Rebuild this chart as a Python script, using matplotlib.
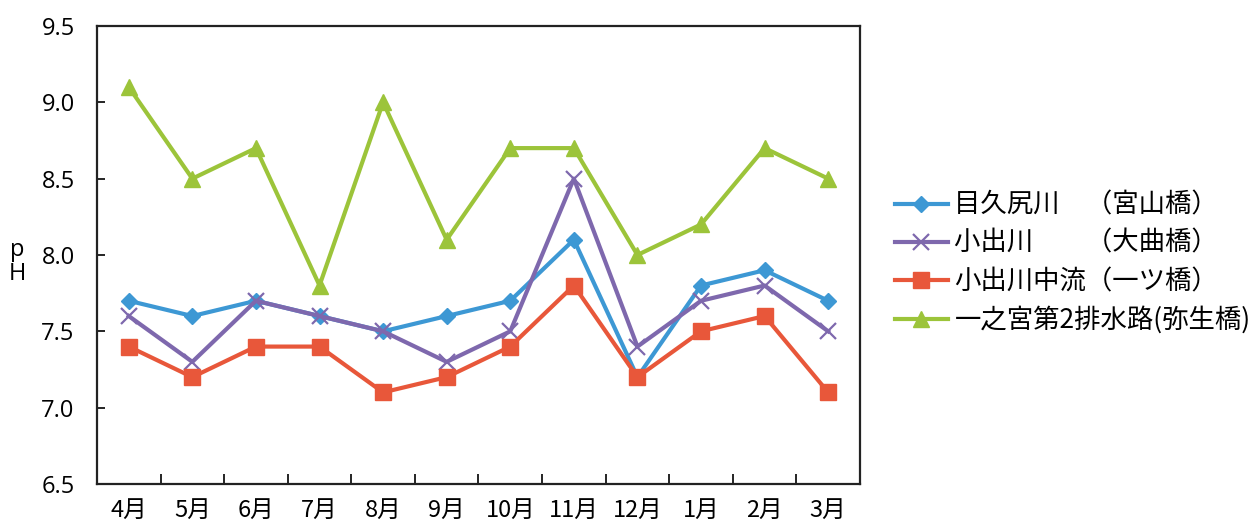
import matplotlib
matplotlib.use("Agg")
import matplotlib.pyplot as plt

plt.rcParams['font.family'] = ['Noto Sans CJK JP', 'DejaVu Sans']

months = ["4月", "5月", "6月", "7月", "8月", "9月", "10月", "11月", "12月", "1月", "2月", "3月"]

mekujiri = [7.7, 7.6, 7.7, 7.6, 7.5, 7.6, 7.7, 8.1, 7.2, 7.8, 7.9, 7.7]
koide = [7.6, 7.3, 7.7, 7.6, 7.5, 7.3, 7.5, 8.5, 7.4, 7.7, 7.8, 7.5]
koide_chuuryuu = [7.4, 7.2, 7.4, 7.4, 7.1, 7.2, 7.4, 7.8, 7.2, 7.5, 7.6, 7.1]
ichinomiya = [9.1, 8.5, 8.7, 7.8, 9.0, 8.1, 8.7, 8.7, 8.0, 8.2, 8.7, 8.5]

labels = [
    "目久尻川　（宮山橋）",
    "小出川　　（大曲橋）",
    "小出川中流（一ツ橋）",
    "一之宮第2排水路(弥生橋)",
]
y_ticks = [6.5, 7.0, 7.5, 8.0, 8.5, 9.0, 9.5]

fig = plt.figure(figsize=(12.56, 5.29), dpi=100)
ax = fig.add_axes([0.0772, 0.0851, 0.6075, 0.8658])

x = list(range(len(months)))
styles = [
    (mekujiri, "#3d98d4", "D", 8, dict()),
    (koide, "#7e68ad", "x", 11, dict(markeredgewidth=1.6)),
    (koide_chuuryuu, "#e8573a", "s", 11, dict()),
    (ichinomiya, "#9cc43a", "^", 11, dict()),
]
for (vals, color, mk, ms, extra), lab in zip(styles, labels):
    ax.plot(x, vals, color=color, lw=3, marker=mk, markersize=ms,
            markerfacecolor=color, markeredgecolor=color, label=lab, **extra)

ax.set_xlim(-0.5, len(months) - 0.5)
ax.set_ylim(6.5, 9.5)
ax.set_yticks(y_ticks)
ax.set_yticklabels([f"{v:.1f}" for v in y_ticks], fontsize=17, family=['Open Sans', 'DejaVu Sans'])
ax.tick_params(axis='y', direction='in', length=6, width=1.2, pad=16)

ax.set_xticks(x)
ax.set_xticklabels(months, fontsize=17)
ax.set_xticks([i + 0.5 for i in range(len(months) - 1)], minor=True)
ax.tick_params(axis='x', which='major', length=0, pad=11)
ax.tick_params(axis='x', which='minor', direction='in', length=7, width=1.2)

for sp in ax.spines.values():
    sp.set_linewidth(1.6)
    sp.set_color("#222222")

fig.text(0.0135, 0.505, "p\nH", fontsize=17, ha='center', va='center',
         linespacing=1.0, family=['Open Sans', 'DejaVu Sans'])

leg = fig.legend(loc='center left', bbox_to_anchor=(0.7126, 0.503), frameon=False,
                 fontsize=19, handlelength=2.0, handletextpad=0.25,
                 labelspacing=0.42, borderpad=0, borderaxespad=0)

fig.savefig("out.png", dpi=100)
